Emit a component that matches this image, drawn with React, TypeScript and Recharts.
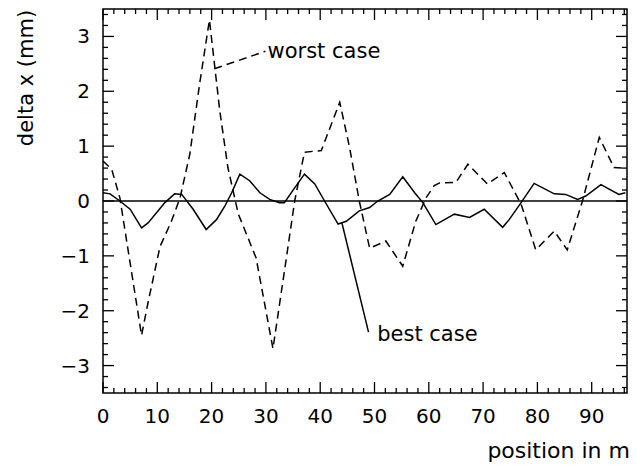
import { LineChart, Line, XAxis, YAxis, ReferenceLine, ReferenceDot, ReferenceArea } from 'recharts'

// best case (solid)
const bestX = [0, 1.3, 3.1, 5, 7.1, 8.3, 11.4, 13.2, 14.5, 16.6, 19, 20.9, 22.4, 23.7, 25.2, 27, 28.9, 30.7, 32.5, 33.4, 35.3, 37.1, 39, 40.8, 43.3, 44.8, 47.2, 49.1, 50.6, 52.8, 55.2, 57.4, 58.9, 61.3, 64.7, 67.5, 70.2, 73.6, 74.8, 77, 79.4, 83.1, 85.2, 87.4, 88.9, 91.7, 95, 96.2]
const bestY = [0.15, 0.13, 0, -0.15, -0.49, -0.4, -0.03, 0.13, 0.12, -0.15, -0.52, -0.34, -0.1, 0.15, 0.49, 0.37, 0.15, 0.03, -0.03, -0.03, 0.24, 0.49, 0.31, 0, -0.42, -0.37, -0.18, -0.12, 0, 0.12, 0.44, 0.15, -0.03, -0.43, -0.24, -0.3, -0.15, -0.48, -0.34, -0.03, 0.32, 0.13, 0.12, 0.03, 0.09, 0.3, 0.12, 0.15]

// worst case (dashed)
const worstX = [0, 1.6, 3.1, 7.1, 8.3, 10.5, 12.6, 14.2, 16, 17.8, 19.6, 21.5, 23, 24.9, 28.2, 31.3, 33.5, 35.3, 37.1, 40.2, 43.6, 45.4, 47.2, 49.1, 52.1, 55.2, 57.6, 59.5, 61, 62, 65, 67.2, 70.8, 73.9, 77, 79.7, 83.1, 85.5, 88.3, 91.4, 94.1, 96.3]
const worstY = [0.73, 0.58, 0.06, -2.45, -1.85, -0.83, -0.37, 0.06, 0.86, 2.14, 3.3, 1.65, 0.61, -0.23, -1.04, -2.69, -1.22, 0, 0.89, 0.92, 1.8, 0.98, 0, -0.86, -0.73, -1.19, -0.37, 0.06, 0.28, 0.33, 0.34, 0.67, 0.31, 0.52, -0.06, -0.89, -0.55, -0.89, 0, 1.16, 0.61, 0.6]

const xTicks = [0, 2, 4, 6, 8, 10, 12, 14, 16, 18, 20, 22, 24, 26, 28, 30, 32, 34, 36, 38, 40, 42, 44, 46, 48, 50, 52, 54, 56, 58, 60, 62, 64, 66, 68, 70, 72, 74, 76, 78, 80, 82, 84, 86, 88, 90, 92, 94, 96]
const yTicks = [-3.4, -3.2, -3, -2.8, -2.6, -2.4, -2.2, -2, -1.8, -1.6, -1.4, -1.2, -1, -0.8, -0.6, -0.4, -0.2, 0, 0.2, 0.4, 0.6, 0.8, 1, 1.2, 1.4, 1.6, 1.8, 2, 2.2, 2.4, 2.6, 2.8, 3, 3.2, 3.4]

const best = bestX.map((x, i) => ({ x, y: bestY[i] }))
const worst = worstX.map((x, i) => ({ x, y: worstY[i] }))

const font = 'DejaVu Sans, sans-serif'
// plot box size (chart 629x460, margins + axis sizes below)
const PLOT_W = 524
const PLOT_H = 384
const isMajorX = (v: number) => v % 10 === 0
const isMajorY = (v: number) => Math.abs(v - Math.round(v)) < 1e-6

// ticks point inward, mirrored on the top / right edge
function BottomTick({ x, y, payload }: any) {
  const len = isMajorX(payload.value) ? 11 : 5
  return (
    <g>
      <line x1={x} y1={y} x2={x} y2={y - len} stroke="#000" strokeWidth={1.3} />
      <line x1={x} y1={y - PLOT_H} x2={x} y2={y - PLOT_H + len} stroke="#000" strokeWidth={1.3} />
      {len > 5 && (
        <text x={x} y={y + 30} textAnchor="middle" fontSize={20} fontFamily={font} fill="#000">
          {payload.value}
        </text>
      )}
    </g>
  )
}

function LeftTick({ x, y, payload }: any) {
  const major = isMajorY(payload.value)
  const len = major ? 11 : 5
  const v = Math.round(payload.value)
  return (
    <g>
      <line x1={x} y1={y} x2={x + len} y2={y} stroke="#000" strokeWidth={1.3} />
      <line x1={x + PLOT_W} y1={y} x2={x + PLOT_W - len} y2={y} stroke="#000" strokeWidth={1.3} />
      {major && (
        <text x={x - 13} y={y + 7} textAnchor="end" fontSize={20} fontFamily={font} fill="#000">
          {v < 0 ? '\u2212' + Math.abs(v) : v}
        </text>
      )}
    </g>
  )
}

const annot = (text: string) => (p: any) => (
  <text x={p.cx} y={p.cy + 7} fontSize={21} fontFamily={font} fill="#000">
    {text}
  </text>
)

export default function App() {
  return (
    <LineChart width={629} height={460} margin={{ top: 1, right: 10, left: 0, bottom: 0 }}>
      <XAxis
        type="number"
        dataKey="x"
        domain={[0, 96.5]}
        ticks={xTicks}
        interval={0}
        height={75}
        tickSize={0}
        tickMargin={0}
        tickLine={false}
        tick={<BottomTick />}
        axisLine={false}
        allowDataOverflow
        label={(props: any) => {
          const vb = props.viewBox
          return (
            <text x={vb.x + vb.width + 3} y={vb.y + 65} textAnchor="end" fontSize={22} fontFamily={font} fill="#000">
              position in m
            </text>
          )
        }}
      />
      <YAxis
        type="number"
        domain={[-3.5, 3.5]}
        ticks={yTicks}
        interval={0}
        width={95}
        tickSize={0}
        tickMargin={0}
        tickLine={false}
        tick={<LeftTick />}
        axisLine={false}
        allowDataOverflow
        label={(props: any) => {
          const vb = props.viewBox
          const cx = 18
          const cy = vb.y + 69
          return (
            <text x={cx} y={cy} transform={`rotate(-90 ${cx} ${cy})`} textAnchor="middle" dominantBaseline="central" fontSize={21} fontFamily={font} fill="#000">
              delta x  (mm)
            </text>
          )
        }}
      />
      <ReferenceArea x1={0} x2={96.5} y1={-3.5} y2={3.5} fill="none" fillOpacity={0} stroke="#000" strokeWidth={1.5} />
      <ReferenceLine y={0} stroke="#000" strokeWidth={1.5} />
      <Line
        data={worst}
        dataKey="y"
        type="linear"
        stroke="#000"
        strokeWidth={1.5}
        strokeDasharray="8 5"
        dot={false}
        isAnimationActive={false}
      />
      <Line
        data={best}
        dataKey="y"
        type="linear"
        stroke="#000"
        strokeWidth={1.5}
        dot={false}
        isAnimationActive={false}
      />
      <ReferenceLine
        segment={[{ x: 20.5, y: 2.41 }, { x: 29.9, y: 2.73 }]}
        stroke="#000"
        strokeWidth={1.5}
        strokeDasharray="8 5"
      />
      <ReferenceLine
        segment={[{ x: 44.0, y: -0.4 }, { x: 48.9, y: -2.39 }]}
        stroke="#000"
        strokeWidth={1.5}
      />
      <ReferenceDot x={30.3} y={2.73} r={0} shape={annot('worst case')} />
      <ReferenceDot x={50.5} y={-2.43} r={0} shape={annot('best case')} />
    </LineChart>
  )
}
